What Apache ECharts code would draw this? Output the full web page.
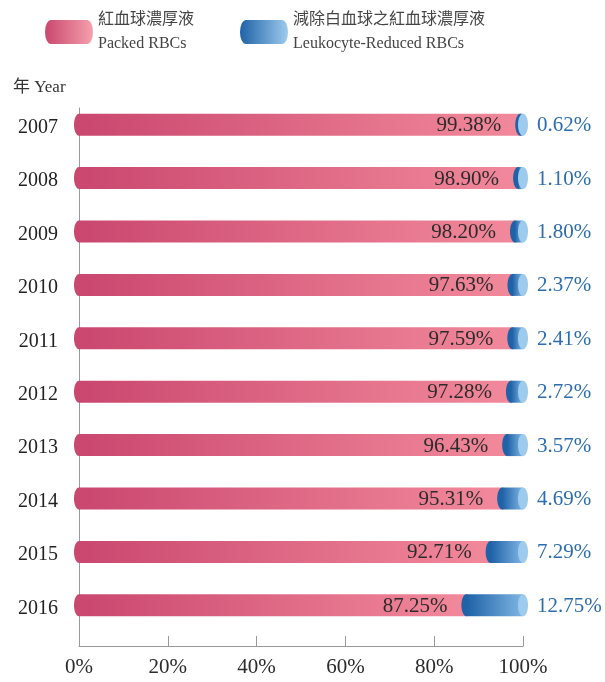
<!DOCTYPE html>
<html>
<head>
<meta charset="utf-8">
<script src="https://cdn.jsdelivr.net/npm/echarts@6/dist/echarts.min.js"></script>
<style>
html, body { margin: 0; padding: 0; background: #fff; }
#main { width: 605px; height: 682px; }
</style>
</head>
<body>
<div id="main"></div>
<script>
var chart = echarts.init(document.getElementById('main'));

let years = ['2007', '2008', '2009', '2010', '2011', '2012', '2013', '2014', '2015', '2016'];
let packed = [99.38, 98.90, 98.20, 97.63, 97.59, 97.28, 96.43, 95.31, 92.71, 87.25];
let reduced = [0.62, 1.10, 1.80, 2.37, 2.41, 2.72, 3.57, 4.69, 7.29, 12.75];
let seriesCN = ['紅血球濃厚液', '減除白血球之紅血球濃厚液'];
let seriesEN = ['Packed RBCs', 'Leukocyte-Reduced RBCs'];
let xTicks = [0, 20, 40, 60, 80, 100];

let font = "'Liberation Serif', 'Noto Sans CJK TC', serif";
let redDark = '#ca476f', redLight = '#f2899b';
let blueDark = '#1f62a7', blueLight = '#7fb5e3', blueCap = '#9dcbee';
let barH = 22, capR = 5;

function grad(c1, c2) {
    return { type: 'linear', x: 0, y: 0, x2: 1, y2: 0, colorStops: [{ offset: 0, color: c1 }, { offset: 1, color: c2 }] };
}

let renderRed = function (params, api) {
    let s = api.coord([api.value(0), api.value(2)]);
    let e = api.coord([api.value(1), api.value(2)]);
    let cy = s[1];
    return {
        type: 'group',
        children: [{
            type: 'ellipse',
            shape: { cx: s[0], cy: cy, rx: capR, ry: barH / 2 },
            style: { fill: redDark }
        }, {
            type: 'rect',
            shape: { x: s[0], y: cy - barH / 2, width: e[0] - s[0], height: barH },
            style: { fill: grad(redDark, redLight) }
        }, {
            type: 'text',
            style: {
                x: e[0] - 19, y: cy + 1, text: api.value(1).toFixed(2) + '%',
                align: 'right', verticalAlign: 'middle',
                font: '21px ' + font, fill: '#2b2b2b'
            }
        }]
    };
};

let renderBlue = function (params, api) {
    let s = api.coord([api.value(0), api.value(2)]);
    let e = api.coord([api.value(1), api.value(2)]);
    let cy = s[1];
    return {
        type: 'group',
        children: [{
            type: 'ellipse',
            shape: { cx: s[0], cy: cy, rx: capR, ry: barH / 2 },
            style: { fill: blueDark }
        }, {
            type: 'rect',
            shape: { x: s[0], y: cy - barH / 2, width: e[0] - s[0], height: barH },
            style: { fill: grad(blueDark, blueLight) }
        }, {
            type: 'ellipse',
            shape: { cx: e[0], cy: cy, rx: capR, ry: barH / 2 },
            style: { fill: blueCap }
        }, {
            type: 'text',
            style: {
                x: e[0] + 14, y: cy + 1, text: reduced[params.dataIndex].toFixed(2) + '%',
                align: 'left', verticalAlign: 'middle',
                font: '21px ' + font, fill: '#2d6dad'
            }
        }]
    };
};

let iconPath = 'path://M6,0H42A6,12,0,0,1,42,24H6A6,12,0,0,1,6,0Z';
let legendBase = {
    top: 7,
    itemWidth: 48,
    itemHeight: 24,
    selectedMode: false,
    formatter: name => {
        let i = seriesEN.indexOf(name);
        return '{cn|' + seriesCN[i] + '}\n{en|' + seriesEN[i] + '}';
    },
    textStyle: {
        rich: {
            cn: { fontSize: 16, fontFamily: font, color: '#444', lineHeight: 22 },
            en: { fontSize: 16, fontFamily: font, color: '#444', lineHeight: 24, padding: [2, 0, 0, 0] }
        }
    }
};

option = {
    backgroundColor: '#fff',
    animation: false,
    title: {
        text: '年 Year',
        left: 8,
        top: 74,
        textStyle: { fontSize: 17, fontWeight: 'normal', fontFamily: font, color: '#333' }
    },
    legend: [
        Object.assign({}, legendBase, {
            left: 40,
            data: [{ name: seriesEN[0], icon: iconPath, itemStyle: { color: grad(redDark, '#f5a0ac') } }]
        }),
        Object.assign({}, legendBase, {
            left: 235,
            data: [{ name: seriesEN[1], icon: iconPath, itemStyle: { color: grad(blueDark, blueCap) } }]
        })
    ],
    grid: [
        { left: 79, right: 82, top: 98, height: 534 },
        { left: 79, right: 82, top: 108, bottom: 36 }
    ],
    xAxis: [{
        gridIndex: 0, type: 'value', min: 0, max: 100, show: false
    }, {
        gridIndex: 1, type: 'value', min: xTicks[0], max: xTicks[xTicks.length - 1], interval: 20,
        axisLine: { show: true, lineStyle: { color: '#999', width: 1 } },
        axisTick: { show: true, inside: true, length: 10, lineStyle: { color: '#999' } },
        splitLine: { show: false },
        axisLabel: { formatter: '{value}%', margin: 11, fontSize: 21, fontFamily: font, color: '#2b2b2b' }
    }],
    yAxis: [{
        gridIndex: 0, type: 'category', data: years, inverse: true,
        axisLine: { show: false }, axisTick: { show: false },
        axisLabel: {
            margin: 21,
            formatter: '{y|{value}}',
            rich: { y: { fontSize: 20, fontFamily: font, color: '#222', padding: [6, 0, 0, 0] } }
        }
    }, {
        gridIndex: 1, type: 'value', min: 0, max: 1,
        axisLine: { show: true, lineStyle: { color: '#999', width: 1 } },
        axisTick: { show: false }, axisLabel: { show: false }, splitLine: { show: false }
    }],
    series: [{
        name: seriesEN[0],
        type: 'custom',
        xAxisIndex: 0, yAxisIndex: 0,
        renderItem: renderRed,
        encode: { x: [0, 1], y: 2 },
        itemStyle: { color: redDark },
        data: years.map((y, i) => [0, packed[i], i])
    }, {
        name: seriesEN[1],
        type: 'custom',
        xAxisIndex: 0, yAxisIndex: 0,
        renderItem: renderBlue,
        encode: { x: [0, 1], y: 2 },
        itemStyle: { color: blueDark },
        data: years.map((y, i) => [packed[i], packed[i] + reduced[i], i])
    }]
};
chart.setOption(option);
</script>
</body>
</html>
